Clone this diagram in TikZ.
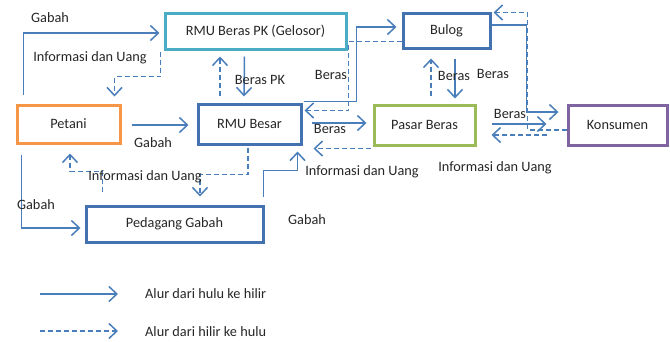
\documentclass[tikz,border=0pt]{standalone}
\usepackage{fontspec}
\setmainfont{Carlito}
\usetikzlibrary{arrows.meta,calc}
\definecolor{lineblue}{RGB}{74,126,187}
\definecolor{boxblue}{RGB}{68,114,176}
\definecolor{boxcyan}{RGB}{75,172,198}
\definecolor{boxorange}{RGB}{247,150,70}
\definecolor{boxgreen}{RGB}{155,187,89}
\definecolor{boxpurple}{RGB}{128,100,162}
\definecolor{txt}{RGB}{38,38,38}
\tikzset{
  box/.style={draw, line width=3pt, minimum width=#1, inner sep=0pt, text=txt},
  flow/.style={draw=lineblue, line width=1.5pt, -{Straight Barb[length=8pt,width=15pt,line width=1.5pt]}},
  back/.style={flow, dash pattern=on 5pt off 3pt},
  lbl/.style={text=txt, inner sep=0pt}
}
\begin{document}
\begin{tikzpicture}[x=1pt,y=-1pt,font=\fontsize{14.3}{17}\selectfont]
\useasboundingbox (0,0) rectangle (670,341);
% boxes
\node[box=181pt, draw=boxcyan, minimum height=36pt] (rmupk) at (255.5,31) {RMU Beras PK (Gelosor)};
\node[box=87pt, draw=boxblue, minimum height=35pt] (bulog) at (446.5,30.5) {Bulog};
\node[box=103pt, draw=boxorange, minimum height=38pt] (petani) at (68.5,124) {Petani};
\node[box=103pt, draw=boxblue, minimum height=40pt] (rmub) at (249.5,124) {RMU Besar};
\node[box=101pt, draw=boxgreen, minimum height=40pt] (pasar) at (424.5,125) {Pasar Beras};
\node[box=99pt, draw=boxpurple, minimum height=40pt] (kons) at (617.5,125) {Konsumen};
\node[box=177pt, draw=boxblue, minimum height=36pt] (pedag) at (174.5,224) {Pedagang Gabah};
% connectors
\draw[flow] ($(petani.north west)+(8,-9)$) |- ($(rmupk.west)+(-4,2)$);
\draw[back] ($(rmupk.south west)+(-3,1)$) -- ++(0,25) -| ($(petani.north east)+(-7,-7)$);
\draw[flow] ($(rmupk.south)+(-11,6)$) -- ($(rmub.north)+(-5.5,-6)$);
\draw[back] ($(rmub.north)+(-29.5,-7)$) -- ($(rmupk.south)+(-35.5,6)$);
\draw[flow] ($(petani.east)+(10,1)$) -- ($(rmub.west)+(-8,1)$);
\draw[back] ($(rmub.south)+(-1.5,2)$) -- ++(0,27) -| ($(pedag.north)+(25.5,-8)$);
\draw[back] ($(pedag.north west)+(18,-13)$) -- ++(0,-20) -| ($(petani.south)+(1.5,9)$);
\draw[flow] ($(petani.south west)+(6,10)$) |- ($(pedag.west)+(-4,4)$);
\draw[flow] ($(pedag.north east)+(-1,-8)$) -- ++(0,-26) -| ($(rmub.south east)+(-5,6)$);
\draw[flow] ($(rmub.north east)+(1,-1)$) -- ++(53,0) |- ($(bulog.west)+(-5,-3.5)$);
\draw[back] ($(bulog.south west)+(0,-8)$) -- ++(-53,0) |- ($(rmub.north east)+(2,8)$);
\draw[flow] ($(rmub.east)+(9,-1)$) -- ($(pasar.west)+(-6,-2)$);
\draw[back] ($(pasar.south west)+(-2,2)$) -- ($(rmub.south east)+(11,3)$);
\draw[flow] ($(bulog.south)+(8.5,9)$) -- ($(pasar.north)+(30.5,-5)$);
\draw[back] ($(pasar.north)+(6.5,-8)$) -- ($(bulog.south)+(-15.5,9)$);
\draw[flow] ($(bulog.east)+(0,-5.5)$) -- ++(35,0) |- ($(kons.west)+(-8,-13)$);
\draw[back] ($(kons.west)+(0,5)$) -- ++(-39,0) |- ($(bulog.north east)+(2,1)$);
\draw[flow] ($(pasar.east)+(15,-1)$) -- ($(kons.west)+(-20,-1)$);
\draw[back] ($(kons.west)+(-20,10)$) -- ($(pasar.east)+(15,10)$);
% labels
\node[lbl] (l1) at (50,18) {Gabah};
\node[lbl] (l2) at (90,58) {Informasi dan Uang};
\node[lbl] (l3) at (260,80) {Beras PK};
\node[lbl] (l4) at (153,143) {Gabah};
\node[lbl] (l5) at (145,177) {Informasi dan Uang};
\node[lbl] (l6) at (36,205) {Gabah};
\node[lbl] (l7) at (307,220) {Gabah};
\node[lbl] (l8) at (331,75) {Beras};
\node[lbl] (l9) at (330,129) {Beras};
\node[lbl] (l10) at (362,172) {Informasi dan Uang};
\node[lbl] (l11) at (454,76) {Beras};
\node[lbl] (l12) at (493,74) {Beras};
\node[lbl] (l13) at (510,114) {Beras};
\node[lbl] (l14) at (495,168) {Informasi dan Uang};
% legend
\coordinate (a1) at (40,294);
\coordinate (a2) at (118,294);
\coordinate (b1) at (40,331);
\coordinate (b2) at (118,331);
\draw[flow] (a1) -- (a2);
\draw[back] (b1) -- (b2);
\node[lbl, anchor=west] (lg1) at (145,294) {Alur dari hulu ke hilir};
\node[lbl, anchor=west] (lg2) at (145,332) {Alur dari hilir ke hulu};
\end{tikzpicture}
\end{document}
